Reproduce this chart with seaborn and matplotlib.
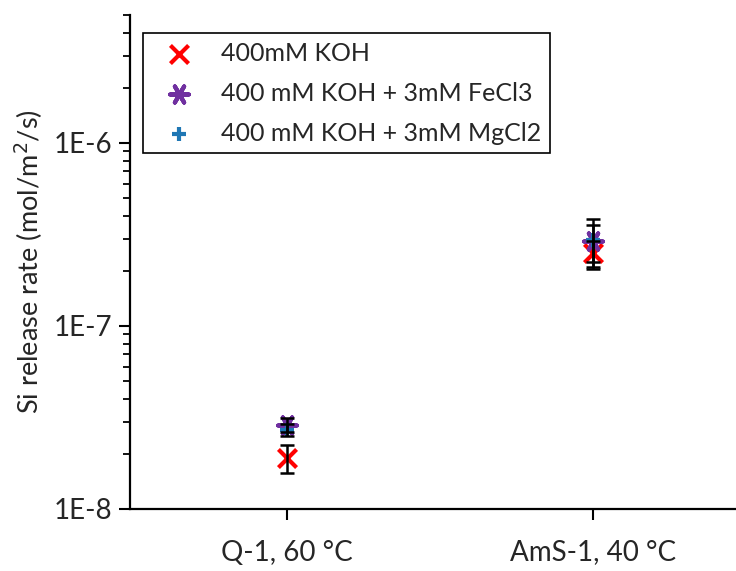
import numpy as np
import pandas as pd
import matplotlib
matplotlib.use("Agg")
import matplotlib.pyplot as plt
from matplotlib.ticker import FuncFormatter, LogLocator, NullFormatter
import seaborn as sns

sites = ["Q-1, 60 °C", "AmS-1, 40 °C"]
series = ["400mM KOH", "400 mM KOH + 3mM FeCl3", "400 mM KOH + 3mM MgCl2"]
koh = [1.90e-8, 2.50e-7]
koh_err = [0.33e-8, 0.40e-7]
fecl3 = [2.88e-8, 2.90e-7]
fecl3_err = [0.25e-8, 0.65e-7]
mgcl2 = [2.70e-8, 2.95e-7]
mgcl2_err = [0.20e-8, 0.90e-7]

colors = {series[0]: "#FF0000", series[1]: "#7030A0", series[2]: "#1F77B4"}
markers = {series[0]: "x", series[1]: (6, 2, 90), series[2]: "+"}
sizes = {series[0]: 170, series[1]: 180, series[2]: 110}

df = pd.DataFrame({
    "site": sites * 3,
    "series": [s for s in series for _ in sites],
    "rate": koh + fecl3 + mgcl2,
    "err": koh_err + fecl3_err + mgcl2_err,
})

sns.set_style("ticks")
plt.rcParams["font.family"] = ["Lato", "DejaVu Sans"]

fig = plt.figure(figsize=(7.36, 5.71), dpi=100)
ax = fig.add_axes([0.1766, 0.1086, 0.8234, 0.8651])

for s in series:
    sub = df[df["series"] == s]
    sns.scatterplot(data=sub, x="site", y="rate", marker=markers[s], color=colors[s],
                    s=sizes[s], linewidth=3, ax=ax, zorder=2, label=s)
    ax.errorbar(sub["site"], sub["rate"], yerr=sub["err"], fmt="none", ecolor="black",
                elinewidth=1.8, capsize=5, capthick=1.8, zorder=3)

ax.set_yscale("log")
ax.set_ylim(1e-8, 5e-6)
ax.set_xlim(-0.513, 1.467)
ax.yaxis.set_major_locator(LogLocator(base=10, numticks=10))
ax.yaxis.set_minor_locator(LogLocator(base=10, subs=np.arange(2, 10), numticks=20))
ax.yaxis.set_minor_formatter(NullFormatter())
ax.yaxis.set_major_formatter(FuncFormatter(lambda v, p: f"1E{int(round(np.log10(v)))}"))

ax.set_xlabel("")
ax.set_ylabel("Si release rate (mol/m$^2$/s)", fontsize=19.5, labelpad=6)
ax.tick_params(axis="both", which="major", labelsize=20, length=8, width=1.5, color="black")
ax.tick_params(axis="y", which="minor", length=5, width=1.3, color="black")
ax.tick_params(axis="x", pad=14)
ax.tick_params(axis="y", pad=5)

for side in ["left", "bottom"]:
    ax.spines[side].set_linewidth(1.6)
    ax.spines[side].set_color("black")
sns.despine(ax=ax)

leg = ax.legend(loc="upper left", bbox_to_anchor=(0.021, 0.964), borderaxespad=0,
                fontsize=18, frameon=True, fancybox=False, edgecolor="black", framealpha=1,
                handletextpad=0.6, borderpad=0.35, labelspacing=0.68, handlelength=2.2)
leg.get_frame().set_linewidth(1.2)

fig.savefig("out.png", dpi=100)
